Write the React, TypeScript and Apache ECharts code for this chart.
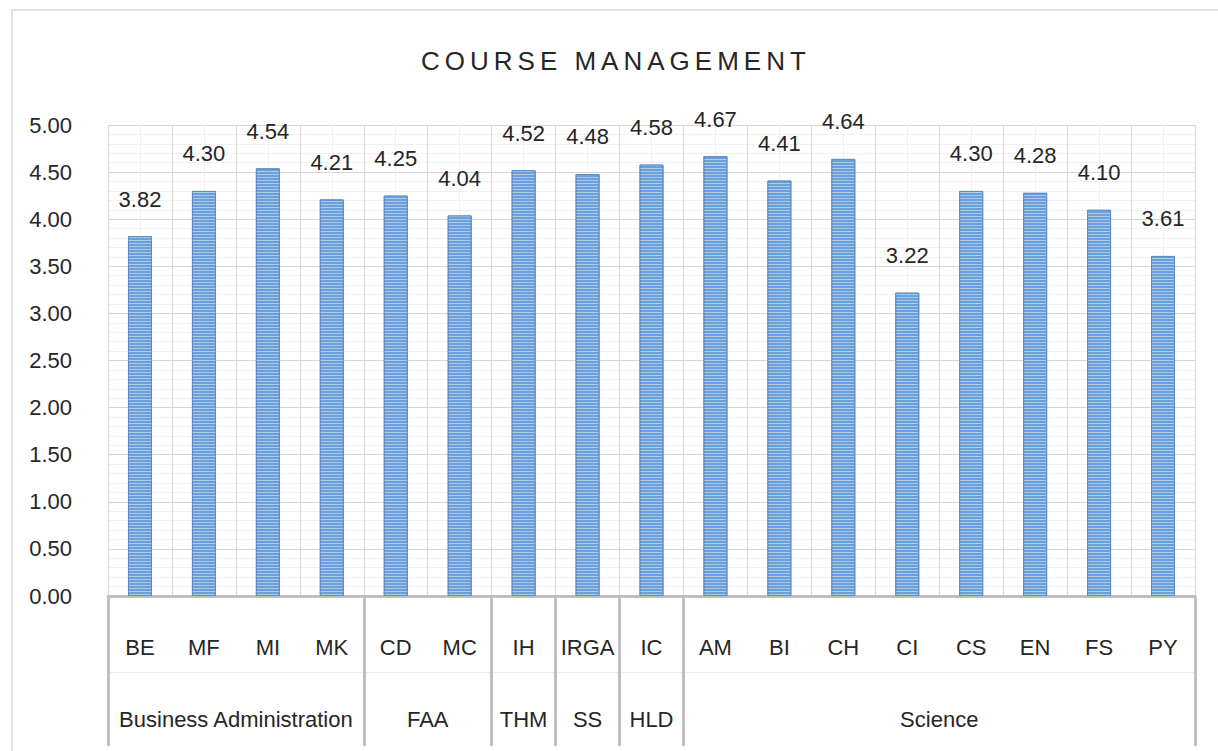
import React, { useEffect, useRef } from 'react';
import * as echarts from 'echarts';

const titleText = 'COURSE MANAGEMENT';
const categories = ['BE', 'MF', 'MI', 'MK', 'CD', 'MC', 'IH', 'IRGA', 'IC', 'AM', 'BI', 'CH', 'CI', 'CS', 'EN', 'FS', 'PY'];
const values = [3.82, 4.30, 4.54, 4.21, 4.25, 4.04, 4.52, 4.48, 4.58, 4.67, 4.41, 4.64, 3.22, 4.30, 4.28, 4.10, 3.61];
const groupNames = ['Business Administration', 'FAA', 'THM', 'SS', 'HLD', 'Science'];
const groupSizes = [4, 2, 1, 1, 1, 8];
const yMin = 0;
const yMax = 5;
const yInterval = 0.5;

const FONT = "'Liberation Sans', Arial, sans-serif";

export default function App() {
  const ref = useRef<HTMLDivElement>(null);

  useEffect(() => {
    if (!ref.current) return;
    const chart = echarts.init(ref.current, undefined, { renderer: 'svg' });

    // half-category slots for group labels and boundaries
    const total = categories.length;
    const slots: string[] = new Array(2 * total + 1).fill('');
    const boundaries: number[] = [];
    let start = 0;
    groupNames.forEach((g, i) => {
      boundaries.push(2 * start);
      slots[2 * start + groupSizes[i]] = g;
      start += groupSizes[i];
    });
    boundaries.push(2 * total);

    chart.setOption({
      animation: false,
      title: {
        text: titleText,
        left: 416,
        top: 43,
        textStyle: { fontFamily: FONT, fontSize: 26, fontWeight: 'normal', color: '#262626' },
      },
      graphic: [
        {
          type: 'rect',
          silent: true,
          shape: { x: 12, y: 10, width: 1400, height: 900 },
          style: { fill: 'none', stroke: '#D9D9D9', lineWidth: 1.5 },
        },
      ],
      grid: { left: 108, right: 23, top: 125, bottom: 155, containLabel: false },
      xAxis: [
        {
          type: 'category',
          data: categories,
          position: 'bottom',
          axisLine: { show: true, lineStyle: { color: '#BFBFBF', width: 3 } },
          axisTick: { show: false },
          splitLine: { show: false },
          axisLabel: { interval: 0, margin: 40, fontSize: 22, fontFamily: FONT, color: '#262626' },
        },
        {
          type: 'category',
          data: slots,
          boundaryGap: false,
          position: 'bottom',
          axisLine: { show: false },
          axisTick: {
            show: true,
            interval: (index: number) => boundaries.includes(index),
            length: 150,
            lineStyle: { color: '#C0C0C0', width: 3 },
          },
          axisLabel: { interval: 0, margin: 112, fontSize: 22, fontFamily: FONT, color: '#262626' },
          splitLine: { show: true, interval: 0, lineStyle: { color: ['#D6D6D6', '#EFEFEF'], width: 1 } },
        },
        {
          type: 'category',
          data: categories,
          position: 'bottom',
          offset: 76,
          axisLine: { show: true, lineStyle: { color: '#EBEBEB', width: 1 } },
          axisTick: { show: false },
          axisLabel: { show: false },
          splitLine: { show: false },
        },
      ],
      yAxis: {
        type: 'value',
        min: yMin,
        max: yMax,
        interval: yInterval,
        axisLine: { show: false },
        axisTick: { show: false },
        axisLabel: {
          margin: 36,
          fontSize: 22,
          fontFamily: FONT,
          color: '#262626',
          formatter: (v: number) => v.toFixed(2),
        },
        splitLine: { show: true, lineStyle: { color: '#D6D6D6', width: 1 } },
        minorTick: { show: false, splitNumber: 5 },
        minorSplitLine: { show: true, lineStyle: { color: '#F0F0F0', width: 1 } },
      },
      series: [
        {
          type: 'bar',
          data: values,
          xAxisIndex: 0,
          yAxisIndex: 0,
          barWidth: 24,
          silent: true,
          itemStyle: {
            color: '#6A9FDB',
            borderColor: '#5A8ECB',
            borderWidth: 1,
            decal: {
              symbol: 'rect',
              symbolSize: 1,
              dashArrayX: [1, 0],
              dashArrayY: [1, 2],
              color: 'rgba(255,255,255,0.45)',
            },
          },
          label: {
            show: true,
            position: 'top',
            distance: 26,
            fontSize: 22,
            fontFamily: FONT,
            color: '#262626',
            formatter: (p: any) => Number(p.value).toFixed(2),
          },
        },
      ],
    });

    const texts = ref.current.querySelectorAll('text');
    texts.forEach((t) => {
      if (t.textContent === titleText) {
        (t as SVGTextElement).style.letterSpacing = '5px';
      }
    });

    return () => {
      chart.dispose();
    };
  }, []);

  return (
    <div
      ref={ref}
      style={{ position: 'fixed', left: 0, top: 0, width: 1218, height: 751, background: '#fff' }}
    />
  );
}
